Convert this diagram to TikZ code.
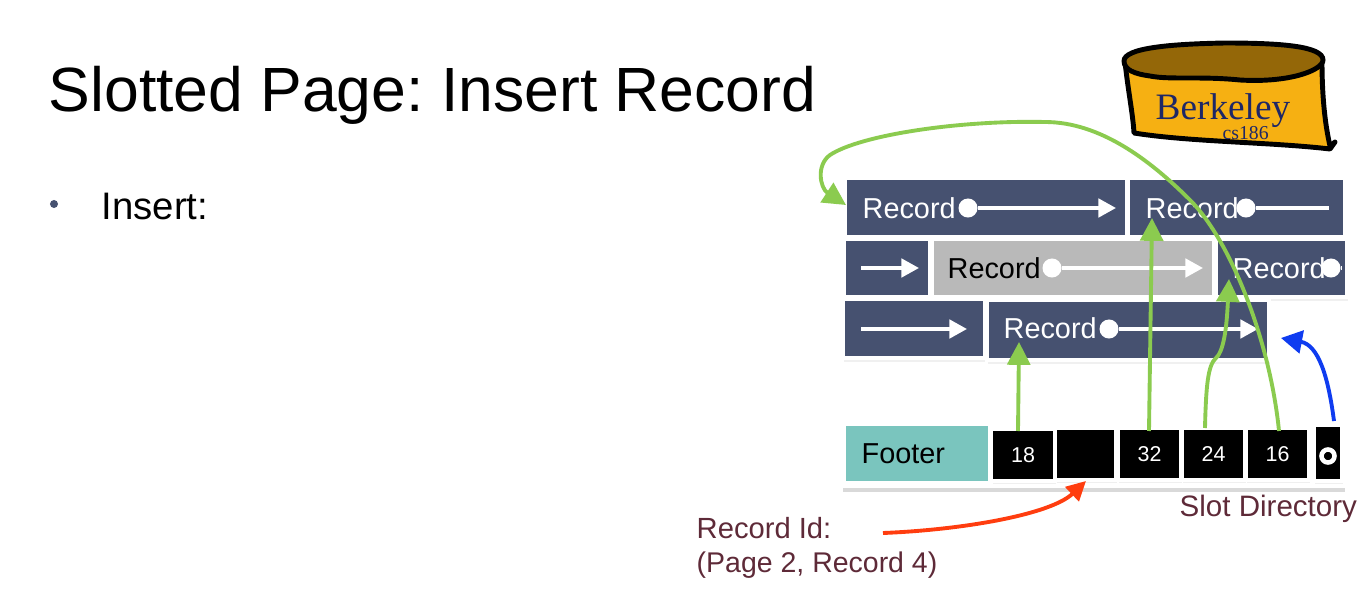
\documentclass[tikz,border=0pt]{standalone}
\usepackage{fontspec}
\setmainfont{Liberation Sans}
\newfontfamily\logofont{Liberation Serif}
\usetikzlibrary{arrows.meta,shadows}

\definecolor{slate}{HTML}{465170}
\definecolor{teal_footer}{HTML}{7AC5BE}
\definecolor{grey_record}{HTML}{B9B9B9}
\definecolor{green_ptr}{HTML}{8BCB4F}
\definecolor{label_red}{HTML}{5E2A38}
\definecolor{logo_gold}{HTML}{F6B012}
\definecolor{logo_brown}{HTML}{946708}
\definecolor{logo_blue}{HTML}{1E2766}
\definecolor{free_blue}{HTML}{0F3CF0}
\definecolor{rid_red}{HTML}{FF3D0F}

\newcommand{\sz}[1]{\fontsize{#1}{#1}\selectfont}

\tikzstyle{box}=[rectangle,draw=white,line width=0.04cm,inner sep=0pt]
\tikzstyle{soft_box}=[box,drop shadow={shadow xshift=0.3pt,shadow yshift=-1.1pt,opacity=0.12}]
\tikzstyle{record_box}=[soft_box,fill=slate]
\tikzstyle{grey_box}=[soft_box,fill=grey_record]
\tikzstyle{slot}=[soft_box,fill=black,text=white,font=\sz{6.1}]
\tikzstyle{word}=[inner sep=0pt,anchor=base west,font=\sz{8.2}]
\tikzstyle{dot}=[circle,fill=white,inner sep=0pt,minimum size=0.19cm]
\tikzstyle{link}=[white,line width=1.1pt,-{Triangle[length=5pt,width=5.2pt]}]
\tikzstyle{ptr}=[green_ptr,line width=1.1pt,-{Triangle[length=6.5pt,width=6.5pt]}]
\tikzstyle{caption}=[inner sep=0pt,anchor=base west,text=label_red,font=\sz{8.4}]

\begin{document}
\frenchspacing
\begin{tikzpicture}[x=0.01cm,y=-0.01cm]
\useasboundingbox (0,0) rectangle (1369,615);

\node[inner sep=0pt,anchor=base west,font=\sz{17.77}] (title) at (48,111) {Slotted Page: Insert Record};
\node[circle,fill=slate,inner sep=0pt,minimum size=0.08cm] (bullet) at (54,204) {};
\node[inner sep=0pt,anchor=base west,font=\sz{10.9}] (insert) at (101,219) {Insert:};

% logo
\draw[line width=1.4pt,fill=logo_gold,line join=round] (1125,62) .. controls (1128,90) and (1133,115) .. (1134,133) .. controls (1190,142) and (1270,142) .. (1330,149) -- (1335,142) -- (1330,146) .. controls (1324,120) and (1322,90) .. (1322,62) -- cycle;
\draw[line width=1.4pt,fill=logo_brown] (1124,61) .. controls (1124,48) and (1170,44) .. (1225,43) .. controls (1280,43) and (1323,46) .. (1323,60) .. controls (1323,70) and (1290,83) .. (1240,80) .. controls (1200,76) and (1170,80) .. (1150,76) .. controls (1135,74) and (1124,70) .. (1124,61) -- cycle;
\node[inner sep=0pt,anchor=base west,text=logo_blue,font=\logofont\sz{10.6}] (logoname) at (1155,120) {Berkeley};
\node[inner sep=0pt,anchor=base west,text=logo_blue,font=\logofont\sz{5.6}] (logocourse) at (1222,139) {cs186};

% records
\node[record_box,minimum width=2.82cm,minimum height=0.59cm] (rec1) at (986,207.5) {};
\node[record_box,minimum width=2.17cm,minimum height=0.59cm] (rec2) at (1236.5,207.5) {};
\node[record_box,minimum width=0.86cm,minimum height=0.58cm] (rec3) at (887,268) {};
\node[grey_box,minimum width=2.82cm,minimum height=0.58cm] (rec4) at (1073,268) {};
\node[record_box,minimum width=1.31cm,minimum height=0.58cm] (rec5) at (1281.5,268) {};
\node[record_box,minimum width=1.42cm,minimum height=0.59cm] (rec6) at (914,328.5) {};
\node[record_box,minimum width=2.82cm,minimum height=0.60cm] (rec7) at (1128,330) {};

% footer
\node[box,fill=white,minimum width=5.02cm,minimum height=0.64cm,drop shadow={shadow xshift=0.3pt,shadow yshift=-1.6pt,opacity=0.3}] (page) at (1093,454) {};
\node[box,fill=teal_footer,minimum width=1.46cm,minimum height=0.59cm] (footer) at (917,453.5) {};
\node[slot,minimum width=0.63cm,minimum height=0.51cm] (slot18) at (1023,455) {18};
\node[slot,minimum width=0.60cm,minimum height=0.51cm] (slot0) at (1085.5,454) {};
\node[slot,minimum width=0.63cm,minimum height=0.51cm] (slot32) at (1149.5,454) {32};
\node[slot,minimum width=0.63cm,minimum height=0.51cm] (slot24) at (1213.5,454) {24};
\node[slot,minimum width=0.63cm,minimum height=0.51cm] (slot16) at (1277.5,454) {16};
\node[slot,minimum width=0.28cm,minimum height=0.55cm] (slotfree) at (1328,453) {};
\node[circle,draw=white,line width=1.3pt,fill=black,inner sep=0pt,minimum size=0.13cm] (freeptr) at (1328,456) {};

\node[word,text=white] (word1) at (862,218) {Record};
\node[word,text=white] (word2) at (1145,218) {Record};
\node[word] (word4) at (947,278) {Record};
\node[word,text=white] (word5) at (1232,278) {Record};
\node[word,text=white] (word7) at (1003,338) {Record};
\node[word] (wordfooter) at (861,463) {Footer};

\node[dot] (dot1) at (968,208) {};
\node[dot] (dot2) at (1246,208) {};
\node[dot] (dot4) at (1052,268) {};
\node[dot] (dot5) at (1331,268) {};
\node[dot] (dot7) at (1109,329) {};

\coordinate (end1) at (1116,208);
\coordinate (end2) at (1329,208);
\coordinate (start3) at (861,268);
\coordinate (end3) at (919,268);
\coordinate (end4) at (1203,268);
\coordinate (start6) at (861,329);
\coordinate (end6) at (967,329);
\coordinate (end7) at (1258,329);
\coordinate (endfree) at (1341,268);

\draw[link] (dot1) -- (end1);
\draw[white,line width=1.1pt] (dot2) -- (end2);
\draw[link] (start3) -- (end3);
\draw[link] (dot4) -- (end4);
\draw[white,line width=1.1pt] (dot5) -- (endfree);
\draw[link] (start6) -- (end6);
\draw[link] (dot7) -- (end7);

% slot pointers
\coordinate (head18) at (1019,342);
\coordinate (head32) at (1152,218);
\coordinate (head24) at (1229,279);
\coordinate (head16) at (846,205);
\coordinate (tail18) at (1018,431);
\coordinate (tail32) at (1149,431);
\coordinate (tail24) at (1205,428);
\coordinate (tail16) at (1279,431);
\coordinate (headfree) at (1281,338);
\coordinate (tailfree) at (1334,421);
\coordinate (tailrid) at (883,533);
\coordinate (headrid) at (1086,481);

\draw[ptr] (tail18) -- (head18);
\draw[ptr] (tail32) -- (head32);
\draw[ptr] (tail24) .. controls (1206,385) and (1208,365) .. (1216,358) .. controls (1225,350) and (1227,320) .. (head24);
\draw[ptr] (tail16) .. controls (1270,340) and (1230,240) .. (1190,200) .. controls (1150,160) and (1100,122) .. (1045,122) .. controls (960,120) and (860,135) .. (830,155) .. controls (816,165) and (820,188) .. (head16);

\draw[free_blue,line width=1.1pt,-{Triangle[length=6pt,width=6.5pt]}] (tailfree) .. controls (1328,375) and (1318,345) .. (headfree);
\draw[rid_red,line width=1.1pt,-{Triangle[length=5.5pt,width=5.5pt]}] (tailrid) .. controls (960,530) and (1050,515) .. (headrid);

\node[caption] (slotdir) at (1179,516) {Slot Directory};
\node[caption,font=\sz{8.3}] (ridone) at (696,538) {Record Id:};
\node[caption,font=\sz{8.1}] (ridtwo) at (696,572) {(Page 2, Record 4)};

\end{tikzpicture}
\end{document}
